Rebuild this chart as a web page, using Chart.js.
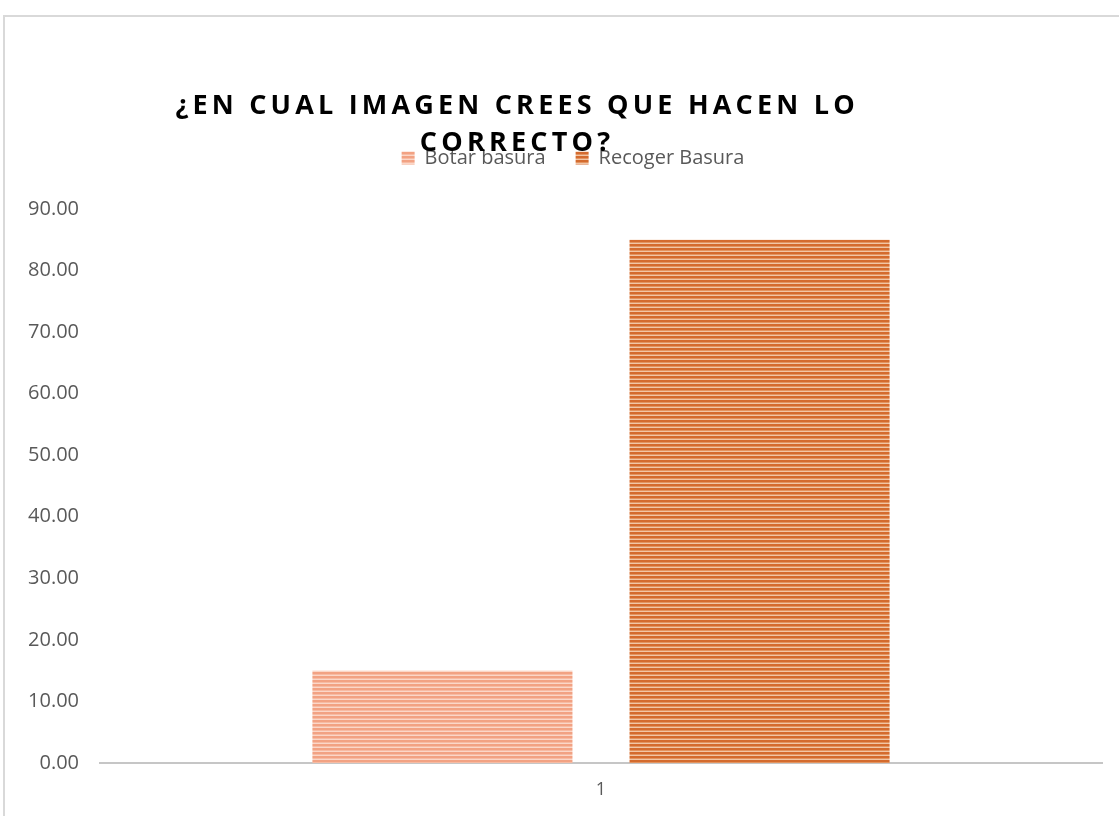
<!DOCTYPE html>
<html>
<head>
<meta charset="utf-8">
<script src="https://cdn.jsdelivr.net/npm/chart.js@4/dist/chart.umd.min.js"></script>
<style>
  html, body { margin: 0; padding: 0; background: #ffffff; overflow: hidden; }
  #frame { position: absolute; left: 3px; top: 15px; width: 1200px; height: 900px;
           border-left: 2px solid #d9d9d9; border-top: 2px solid #d9d9d9; }
  #c { position: absolute; left: 0; top: 0; }
</style>
</head>
<body>
<div id="frame"></div>
<canvas id="c" width="1119" height="816"></canvas>
<script>
// ---- data ----
const titleLines = ['¿EN CUAL IMAGEN CREES QUE HACEN LO', 'CORRECTO?'];
const categories = ['1'];
const seriesNames = ['Botar basura', 'Recoger Basura'];
const botarValues = [15];
const recogerValues = [85];
const yTicks = [0, 10, 20, 30, 40, 50, 60, 70, 80, 90];

// ---- striped fill patterns ----
function stripes(dark, mid, light) {
  const p = document.createElement('canvas');
  p.width = 4; p.height = 4;
  const g = p.getContext('2d');
  g.fillStyle = dark;  g.fillRect(0, 0, 4, 2);
  g.fillStyle = mid;   g.fillRect(0, 2, 4, 1);
  g.fillStyle = light; g.fillRect(0, 3, 4, 1);
  return g.createPattern(p, 'repeat');
}
const ctx = document.getElementById('c').getContext('2d');
const fill1 = stripes('#f2a283', '#f7bba3', '#fbd7c8');
const fill2 = stripes('#d46b2e', '#e39460', '#f1c6a6');

const titlePlugin = {
  id: 'spacedTitle',
  afterDraw(chart) {
    const c = chart.ctx;
    c.save();
    c.font = 'bold 27px "Open Sans"';
    c.fillStyle = '#000000';
    c.textBaseline = 'middle';
    const spacing = 4.2;
    const centers = [[515, 106], [515, 143]];
    titleLines.forEach((line, i) => {
      const chars = Array.from(line);
      const widths = chars.map(ch => c.measureText(ch).width);
      const total = widths.reduce((a, b) => a + b, 0) + spacing * (chars.length - 1);
      let x = centers[i][0] - total / 2;
      chars.forEach((ch, k) => { c.fillText(ch, x, centers[i][1]); x += widths[k] + spacing; });
    });
    c.restore();
  }
};

new Chart(ctx, {
  type: 'bar',
  data: {
    labels: categories,
    datasets: [
      { label: seriesNames[0], data: botarValues, backgroundColor: fill1, borderWidth: 0 },
      { label: seriesNames[1], data: recogerValues, backgroundColor: fill2, borderWidth: 0 }
    ]
  },
  options: {
    responsive: false,
    animation: false,
    events: [],
    layout: { padding: { top: 118, left: 0, right: -27, bottom: 0 } },
    datasets: { bar: { categoryPercentage: 0.633, barPercentage: 0.82 } },
    plugins: {
      title: { display: false },
      tooltip: { enabled: false },
      legend: {
        position: 'top',
        labels: {
          boxWidth: 13, boxHeight: 13, padding: 30,
          color: '#595959',
          font: { family: '"Open Sans"', size: 20 }
        }
      }
    },
    scales: {
      x: {
        position: 'bottom',
        grid: { display: false, drawTicks: false },
        border: { display: true, color: '#c6c6c6', width: 2 },
        ticks: { color: '#595959', padding: 16, font: { family: '"Open Sans"', size: 18 } },
        afterFit(s) { s.height = 53; }
      },
      xTop: {
        position: 'top',
        grid: { display: false, drawTicks: false },
        border: { display: false },
        ticks: { display: false },
        afterFit(s) { s.height = 31; }
      },
      y: {
        min: 0, max: 90,
        afterBuildTicks(s) { s.ticks = yTicks.map(v => ({ value: v })); },
        afterFit(s) { s.width = 100; },
        grid: { display: false, drawTicks: false },
        border: { display: false },
        ticks: {
          padding: 21,
          color: '#595959',
          font: { family: '"Open Sans"', size: 20 },
          callback: v => Number(v).toFixed(2)
        }
      },
      yRight: {
        type: 'linear',
        position: 'right',
        grid: { display: false, drawTicks: false },
        border: { display: false },
        ticks: { display: false },
        afterFit(s) { s.width = 44; }
      }
    }
  },
  plugins: [titlePlugin]
});
</script>
</body>
</html>
